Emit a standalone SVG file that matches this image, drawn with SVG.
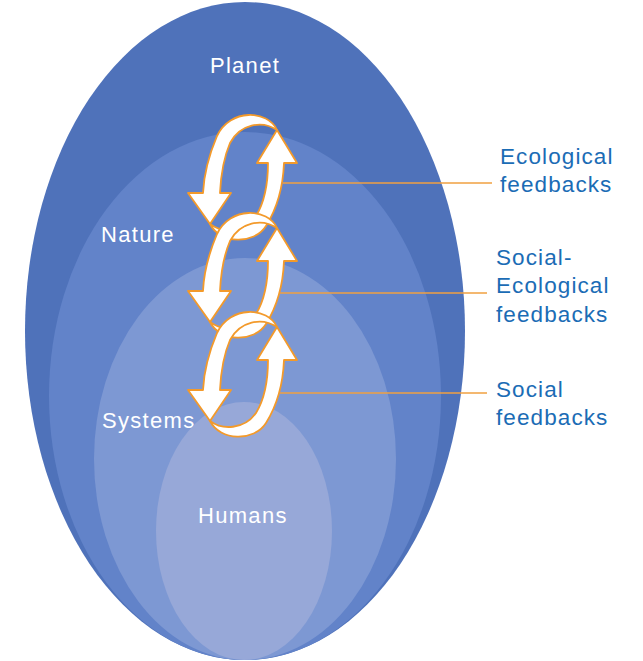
<svg xmlns="http://www.w3.org/2000/svg" width="643" height="661" viewBox="0 0 643 661">
<style>
.lbl{font-family:"Liberation Sans",Arial,sans-serif;font-size:22px;fill:#ffffff;letter-spacing:1.3px}
.fb{font-family:"Liberation Sans",Arial,sans-serif;font-size:22.5px;fill:#1b6cb5;letter-spacing:1.1px}
.arr{fill:#ffffff;stroke:#f39a2b;stroke-width:1.8;stroke-linejoin:round}
.con{stroke:#f0a040;stroke-width:1.6;fill:none}
</style>
<defs>
<g id="loop">
<path class="arr" d="M277 130 C268 110 230 108 217 136 C209 155 204 172 203 193 L188 193 L210 224 L231 193 L220 193 C221 172 224 157 230 143 C240 124 262 120 277 130 Z"/>
<path class="arr" d="M210 224 C220 244 254 245 266 226 C276 210 283 188 284 163 L297 163 L277 130 L257 163 L268 163 C268 186 264 203 256 216 C244 233 222 233 210 224 Z"/>
</g>
</defs>
<rect width="643" height="661" fill="#ffffff"/>
<g id="planet">
<ellipse cx="245" cy="331" rx="220" ry="329" fill="#4f72ba"/>
<text class="lbl" x="245" y="73" text-anchor="middle">Planet</text>
</g>
<g id="nature">
<ellipse cx="245" cy="396" rx="196" ry="264" fill="#6283c9"/>
<text class="lbl" x="101" y="242">Nature</text>
</g>
<g id="systems">
<ellipse cx="245" cy="459" rx="151" ry="201" fill="#7d98d3"/>
<text class="lbl" x="102" y="428">Systems</text>
</g>
<g id="humans">
<ellipse cx="244" cy="531" rx="88" ry="129" fill="#97a8d8"/>
<text class="lbl" x="198" y="523">Humans</text>
</g>
<g id="connectors">
<line class="con" x1="283" y1="183" x2="492" y2="183"/>
<line class="con" x1="280" y1="293" x2="487" y2="293"/>
<line class="con" x1="280" y1="393" x2="487" y2="393"/>
</g>
<g id="loop1"><use href="#loop"/></g>
<g id="loop2"><use href="#loop" transform="translate(0,98)"/></g>
<g id="loop3"><use href="#loop" transform="translate(0,197)"/></g>
<g id="ecological">
<text class="fb" x="500" y="164">Ecological</text>
<text class="fb" x="500" y="192">feedbacks</text>
</g>
<g id="social-ecological">
<text class="fb" x="496" y="265">Social-</text>
<text class="fb" x="496" y="293">Ecological</text>
<text class="fb" x="496" y="322">feedbacks</text>
</g>
<g id="social">
<text class="fb" x="496" y="397">Social</text>
<text class="fb" x="496" y="425">feedbacks</text>
</g>
</svg>
